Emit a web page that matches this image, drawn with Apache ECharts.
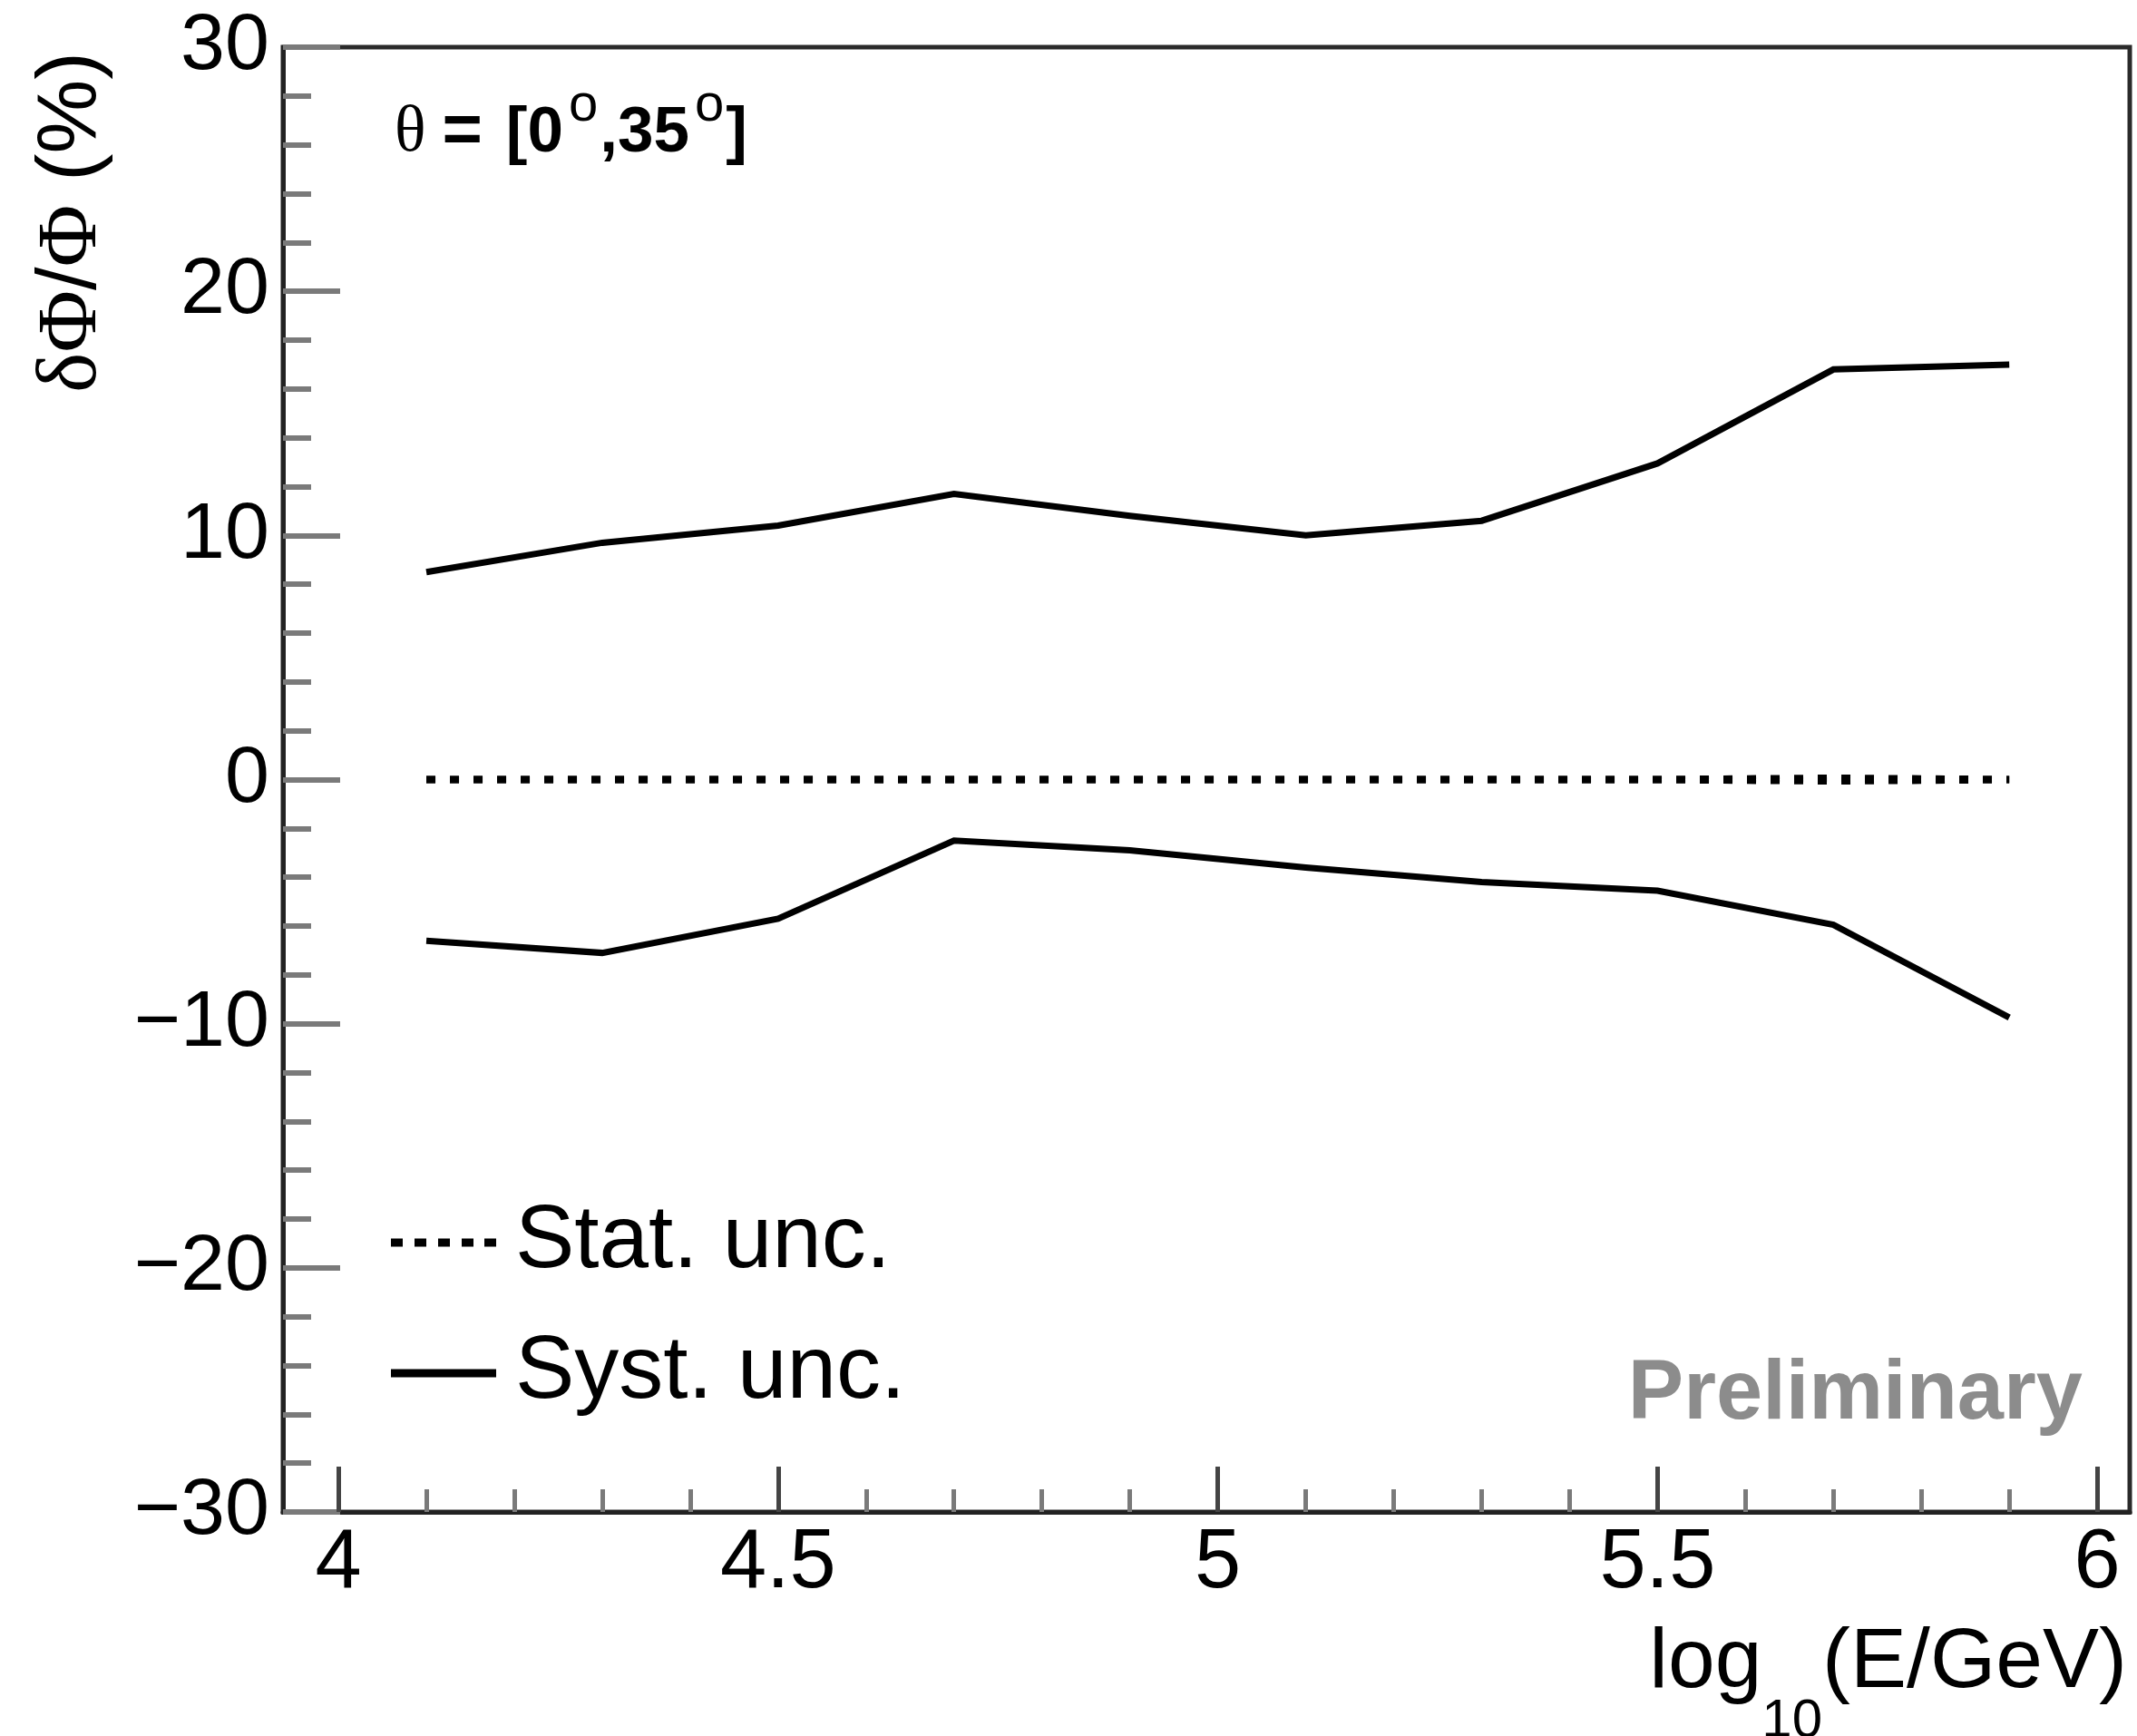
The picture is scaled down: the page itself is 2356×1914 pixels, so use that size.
<!DOCTYPE html>
<html><head><meta charset="utf-8">
<script src="https://cdn.jsdelivr.net/npm/echarts@6/dist/echarts.min.js"></script>
<style>html,body{margin:0;padding:0;background:#fff}#c{width:2356px;height:1914px}</style>
</head><body><div id="c"></div>
<script>
// ---- data ----
const energy = [4.1, 4.3, 4.5, 4.7, 4.9, 5.1, 5.3, 5.5, 5.7, 5.9];
const systUp = [8.5, 9.7, 10.4, 11.7, 10.8, 10.0, 10.6, 12.95, 16.8, 17.0];
const systDown = [-6.6, -7.1, -5.7, -2.5, -2.9, -3.6, -4.2, -4.55, -5.95, -9.75];
const statUp = [0, 0, 0, 0, 0, 0, 0, 0, 0.06, 0];
const statDown = [0, 0, 0, 0, 0, 0, 0, 0, -0.06, 0];
const xMajorTicks = [4, 4.5, 5, 5.5, 6];
const xTickLabels = ['4', '4.5', '5', '5.5', '6'];
const yTickValues = [-30, -20, -10, 0, 10, 20, 30];
const yTickLabels = ['\u221230', '\u221220', '\u221210', '0', '10', '20', '30'];
const legendNames = ['Stat. unc.', 'Syst. unc.'];

const xMinorTicks = [];
for (let k = 41; k <= 59; k++) { if (k % 5 !== 0) xMinorTicks.push(k / 10); }

const FONT = '"Liberation Sans", Arial, Helvetica, sans-serif';
const SERIF = '"Liberation Serif", "Times New Roman", serif';

const mctx = document.createElement('canvas').getContext('2d');
function tw(t, font) { mctx.font = font; return mctx.measureText(t).width; }

const pairs = ys => energy.map((x, i) => [x, ys[i]]);

const chart = echarts.init(document.getElementById('c'), null, { renderer: 'canvas' });

const xMin = 3.937, xMax = 6.037;

function statSeries(ys) {
  return {
    name: legendNames[0], type: 'line', data: pairs(ys), symbol: 'none', silent: true,
    color: '#000',
    lineStyle: { color: '#000', width: 8, type: [10, 16], cap: 'butt' }
  };
}
function systSeries(ys) {
  return {
    name: legendNames[1], type: 'line', data: pairs(ys), symbol: 'none', silent: true,
    color: '#000',
    lineStyle: { color: '#000', width: 7, type: 'solid', join: 'miter' }
  };
}

// x-axis title pieces
const fMain = '93px ' + FONT, fSub = '60px ' + FONT;
const titleRight = 2345;
const wParen = tw('(E/GeV)', fMain);
const wSub = tw('10', fSub);

chart.setOption({
  animation: false,
  backgroundColor: '#fff',
  grid: { left: 312, top: 52, right: 8, bottom: 247, show: true, borderColor: '#2a2a2a', borderWidth: 5, backgroundColor: 'transparent' },
  legend: {
    orient: 'vertical', left: 431, top: 1321, padding: 0, itemGap: 46,
    itemWidth: 116, itemHeight: 9, selectedMode: false,
    textStyle: { fontFamily: FONT, fontSize: 98, color: '#000', padding: [0, 0, 0, 16] },
    itemStyle: { borderWidth: 0 },
    data: [
      { name: legendNames[0], icon: 'path://M0,0h13v9h-13zM26,0h13v9h-13zM52,0h13v9h-13zM78,0h13v9h-13zM103,0h13v9h-13z' },
      { name: legendNames[1], icon: 'path://M0,0h116v9h-116z' }
    ]
  },
  xAxis: [
    {
      type: 'value', min: xMin, max: xMax, position: 'bottom',
      axisLine: { show: true, onZero: false, lineStyle: { color: '#222', width: 5 } },
      axisTick: { show: true, inside: true, length: 50, customValues: xMajorTicks, lineStyle: { color: '#444', width: 5 } },
      axisLabel: {
        show: true, customValues: xMajorTicks, margin: 12, fontSize: 92, fontFamily: FONT, color: '#000',
        formatter: v => { const i = xMajorTicks.findIndex(t => Math.abs(t - v) < 1e-6); return i >= 0 ? xTickLabels[i] : ''; }
      },
      splitLine: { show: false }
    },
    {
      type: 'value', min: xMin, max: xMax, position: 'bottom',
      axisLine: { show: false, onZero: false },
      axisTick: { show: true, inside: true, length: 25, customValues: xMinorTicks, lineStyle: { color: '#7a7a7a', width: 5 } },
      axisLabel: { show: false },
      splitLine: { show: false }
    }
  ],
  yAxis: {
    type: 'value', min: -30, max: 30, interval: 10,
    axisLine: { show: true, onZero: false, lineStyle: { color: '#222', width: 5 } },
    axisTick: { show: true, inside: true, length: 63, lineStyle: { color: '#7a7a7a', width: 6 } },
    minorTick: { show: true, splitNumber: 5, length: 31, lineStyle: { color: '#7a7a7a', width: 6 } },
    axisLabel: {
      margin: 15, fontSize: 88, fontFamily: FONT, color: '#000',
      formatter: v => { const i = yTickValues.findIndex(t => Math.abs(t - v) < 1e-6); return i >= 0 ? yTickLabels[i] : ''; }
    },
    splitLine: { show: false }, minorSplitLine: { show: false }
  },
  series: [statSeries(statUp), statSeries(statDown), systSeries(systUp), systSeries(systDown)],
  graphic: [
    {
      type: 'text', x: 80, y: 57, rotation: Math.PI / 2,
      style: {
        text: '{g|\u03b4\u03a6}{n|/}{g|\u03a6}{n| (%)}', align: 'right', verticalAlign: 'middle',
        rich: {
          g: { fontFamily: SERIF, fontSize: 94, fill: '#000', verticalAlign: 'middle' },
          n: { fontFamily: FONT, fontSize: 92, fill: '#000', verticalAlign: 'middle' }
        }
      }
    },
    {
      type: 'text', x: 435, y: 147,
      style: {
        text: '{g|\u03b8}{e|=}{b|[0}{s|o}{b|,35}{s|o}{b|]}', align: 'left', verticalAlign: 'middle',
        rich: {
          g: { fontFamily: SERIF, fontSize: 72, fill: '#000', verticalAlign: 'middle' },
          e: { fontFamily: FONT, fontSize: 76, fontWeight: 'bold', fill: '#000', verticalAlign: 'middle', padding: [0, 26, 0, 18] },
          b: { fontFamily: FONT, fontSize: 71, fontWeight: 'bold', fill: '#000', verticalAlign: 'middle' },
          s: { fontFamily: FONT, fontSize: 58, fill: '#000', verticalAlign: 'middle', padding: [0, 2, 60, 6] }
        }
      }
    },
    {
      type: 'text', x: 2296, y: 1539,
      style: { text: 'Preliminary', fontFamily: FONT, fontSize: 92, fontWeight: 'bold', fill: '#8c8c8c', align: 'right', verticalAlign: 'middle' }
    },
    {
      type: 'text', x: titleRight, y: 1834,
      style: { text: '(E/GeV)', font: fMain, fill: '#000', align: 'right', verticalAlign: 'middle' }
    },
    {
      type: 'text', x: titleRight - wParen, y: 1898,
      style: { text: '10', font: fSub, fill: '#000', align: 'right', verticalAlign: 'middle' }
    },
    {
      type: 'text', x: titleRight - wParen - wSub, y: 1834,
      style: { text: 'log', font: fMain, fill: '#000', align: 'right', verticalAlign: 'middle' }
    }
  ]
});
</script>
</body></html>
